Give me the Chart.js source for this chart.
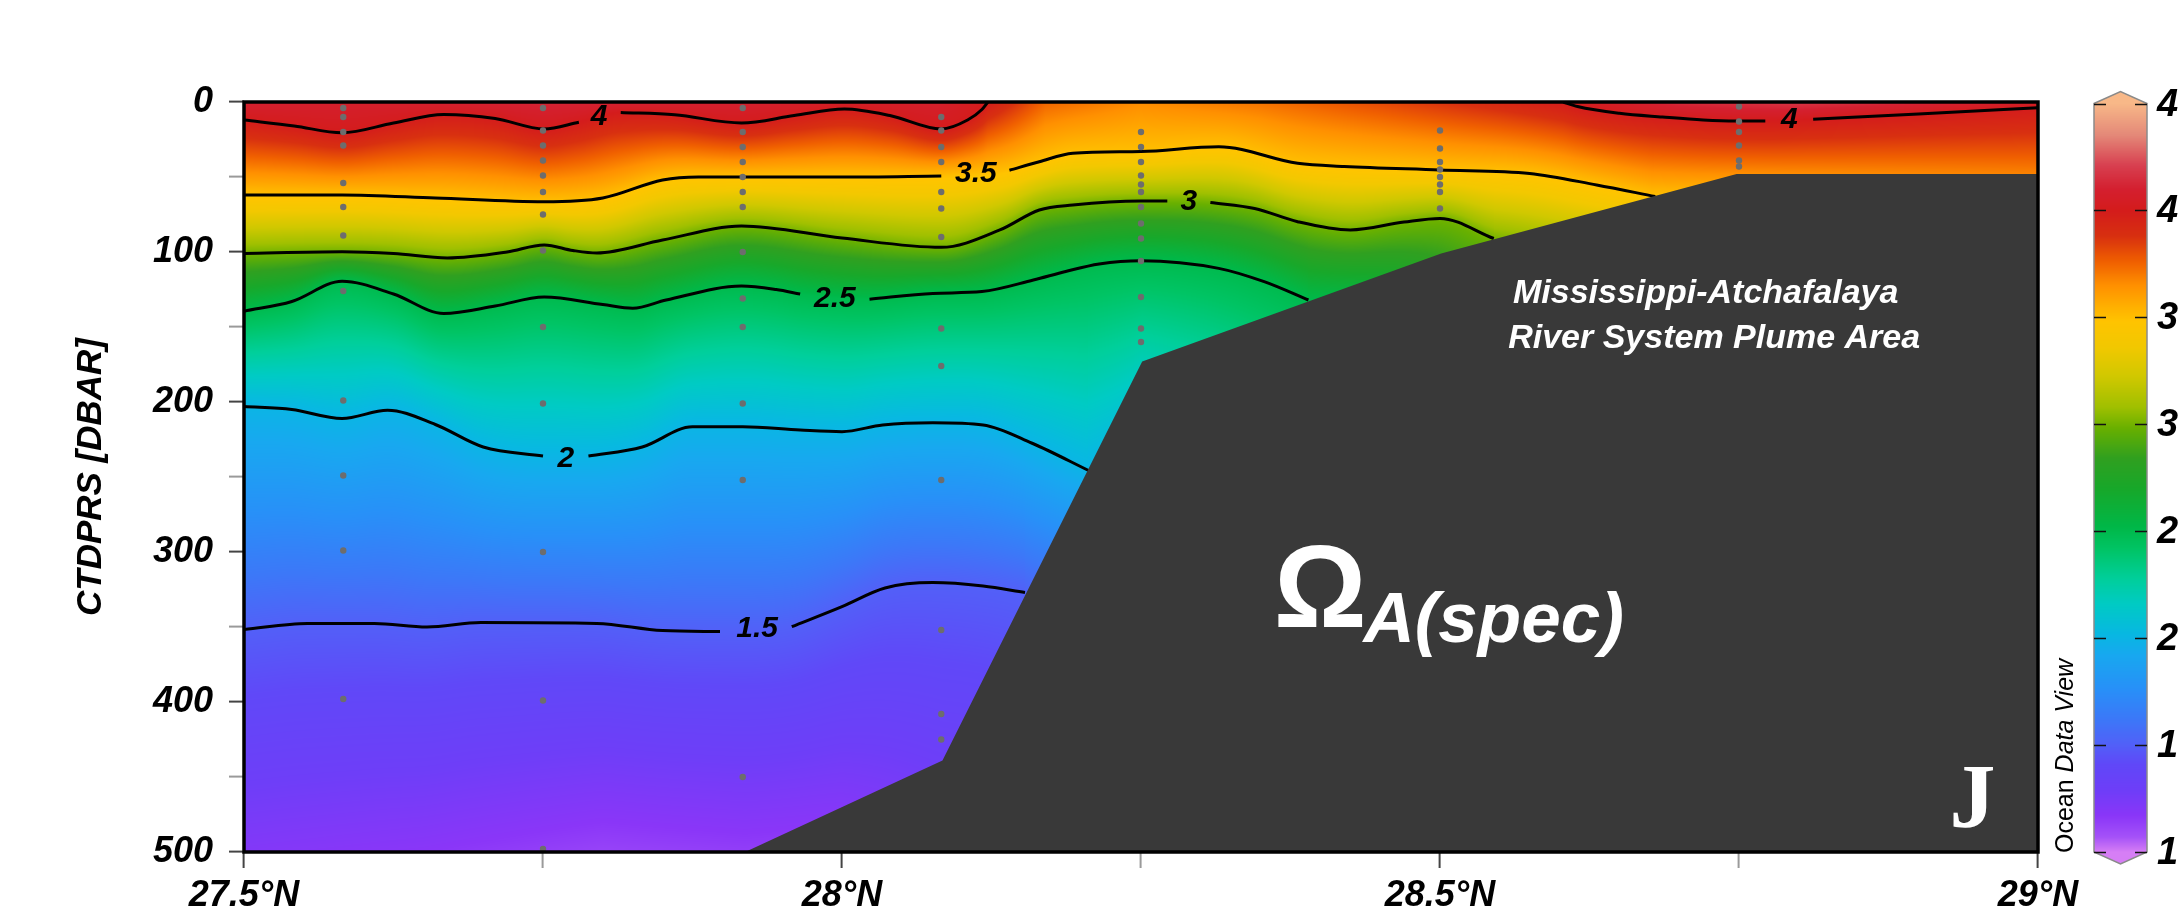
<!DOCTYPE html>
<html>
<head>
<meta charset="utf-8">
<script src="https://cdn.jsdelivr.net/npm/chart.js@4.4.1/dist/chart.umd.min.js"></script>
<style>
  html, body { margin: 0; padding: 0; background: #fff; }
  canvas { display: block; }
</style>
</head>
<body>
<canvas id="section" width="2178" height="922"></canvas>
<script>
// ---- Section data: latitude (°N) along the transect vs. pressure (dbar) ----
const latTicks = [27.5, 28, 28.5, 29];
const depthTicks = [0, 100, 200, 300, 400, 500];
const colorbarTicks = [4.5, 4, 3.5, 3, 2.5, 2, 1.5, 1];

// Isolines of Omega_A as [lat, dbar]; a [lat, null] entry is the break left for the inline label
const iso4West = [[27.5,12],[27.542,16],[27.582,20.5],[27.625,14],[27.667,8.3],[27.71,11],[27.751,18],[27.78,13.5],[27.797,null],[27.815,7],[27.86,8.5],[27.916,14],[27.96,9],[28.002,4.7],[28.04,9],[28.083,18],[28.105,12],[28.117,5],[28.122,0]];
const iso4East = [[28.603,0],[28.615,3],[28.65,7.5],[28.686,10],[28.72,12],[28.747,12.7],[28.772,12.7],[28.792,null],[28.812,11.5],[28.9,8],[29.0,3.8]];
const iso35 = [[27.5,62],[27.582,62],[27.66,64],[27.751,66.5],[27.8,64],[27.85,52],[27.88,50],[27.916,50],[28.0,50],[28.083,49.3],[28.112,null],[28.14,45.5],[28.165,39.8],[28.193,34.2],[28.25,33],[28.315,29.8],[28.381,40.9],[28.42,43],[28.5,45.3],[28.575,47.6],[28.631,55.3],[28.68,63]];
const iso3 = [[27.5,101],[27.582,99.8],[27.625,101],[27.67,104],[27.72,100],[27.751,95.3],[27.775,99],[27.795,100.7],[27.85,92],[27.916,82.7],[28.0,90.7],[28.083,96.9],[28.132,85.3],[28.165,72],[28.193,68.7],[28.25,66],[28.272,66],[28.29,null],[28.308,67],[28.345,71],[28.381,79.8],[28.425,85.3],[28.47,80],[28.5,77.6],[28.545,91]];
const iso25 = [[27.5,139.5],[27.54,133],[27.582,119.5],[27.625,128],[27.667,141],[27.71,136],[27.751,130],[27.8,135],[27.825,137.5],[27.853,132],[27.916,122.7],[27.945,125],[27.965,128],[27.994,null],[28.023,131.5],[28.076,127.6],[28.117,126.4],[28.16,118.7],[28.187,113],[28.215,108],[28.25,105.8],[28.315,110.9],[28.353,119.8],[28.39,132]];
const iso2 = [[27.5,203],[27.54,205],[27.582,211],[27.62,205.5],[27.66,215],[27.7,230],[27.75,236],[27.769,null],[27.788,236],[27.833,230],[27.875,216.5],[27.917,216.5],[27.965,218.7],[28.0,219.8],[28.034,215.3],[28.076,213.8],[28.118,215.3],[28.159,227.5],[28.207,246]];
const iso15 = [[27.5,351.6],[27.553,347.6],[27.609,347.6],[27.653,350],[27.698,347],[27.795,347.6],[27.85,352.4],[27.898,353],[27.929,null],[27.958,349.8],[28.0,336.4],[28.036,324],[28.076,320.4],[28.118,322.7],[28.153,327]];

const isoLevels = [4, 4, 3.5, 3, 2.5, 2, 1.5];
const isoLines = [iso4West, iso4East, iso35, iso3, iso25, iso2, iso15];
const isoLabelText = ['4', '4', '3.5', '3', '2.5', '2', '1.5'];
const isoLabelDbar = [10, 12, 48, 66.5, 131, 238, 351];

// Omega_A along the sea surface and along the bottom of the section
const surfaceLat = [27.5, 27.6, 27.75, 27.9, 28.0, 28.08, 28.122, 28.17, 28.25, 28.35, 28.45, 28.55, 28.603, 28.7, 28.8, 28.9, 29.0];
const surfaceVal = [4.1, 4.08, 4.12, 4.1, 4.06, 4.08, 4.0, 3.75, 3.66, 3.72, 3.82, 3.93, 4.0, 4.14, 4.18, 4.12, 4.06];
const bottomLat = [27.5, 27.65, 27.8, 27.919, 28.0, 28.084, 28.153, 28.207, 28.251, 28.39, 28.545, 28.68, 28.748, 29.0];
const bottomVal = [1.2, 1.17, 1.12, 1.14, 1.2, 1.3, 1.5, 2.0, 2.2, 2.5, 3.0, 3.5, 3.65, 3.68];

// Shelf / slope bathymetry
const seafloorLat = [27.919, 28.084, 28.251, 28.501, 28.748, 29.0];
const seafloorDbar = [500, 439, 173, 101, 48, 48];

// CTD stations and their bottle pressures
const stationLat = [27.583, 27.75, 27.917, 28.083, 28.25, 28.5, 28.75];
const stationDbar = [
  [4, 10, 20, 29, 54, 70, 89, 126, 199, 249, 299, 398],
  [4, 19, 29, 39, 49, 60, 75, 99, 150, 201, 300, 399, 498],
  [4, 20, 30, 40, 50, 60, 70, 100, 131, 150, 201, 252, 450],
  [10, 19, 30, 40, 60, 71, 90, 151, 176, 252, 352, 408, 425],
  [20, 30, 40, 49, 55, 60, 70, 81, 91, 106, 130, 151, 160],
  [19, 31, 40, 45, 50, 55, 60, 71],
  [3, 13, 20, 29, 39, 43]
];

// Colour scale (value -> colour)
const paletteVal = [1.00, 1.07, 1.17, 1.29, 1.41, 1.50, 1.62, 1.76, 1.92, 2.02, 2.16, 2.28, 2.42, 2.52, 2.70, 2.84, 2.98, 3.08, 3.22, 3.36, 3.48, 3.55, 3.65, 3.76, 3.88, 4.00, 4.10, 4.21, 4.35, 4.50];
const paletteHex = ['#d67ef5','#a552f8','#8a36f8','#6e3ef8','#6048f8','#5260f8','#3c78f8','#2890f8','#18a8f0','#08b8e2','#00cbc4','#00cf9a','#00c464','#00b848','#18a82a','#30a020','#68b000','#a0c000','#d0c800','#f2c800','#ffc400','#ffb000','#ff9000','#f06000','#d83010','#d41c1c','#d42030','#d84050','#e48878','#f8b888'];

// ---- helpers ----
const FONT = '"Liberation Sans", Arial, Helvetica, sans-serif';
const paletteRGB = paletteHex.map(h => [parseInt(h.slice(1,3),16), parseInt(h.slice(3,5),16), parseInt(h.slice(5,7),16)]);

function colourOf(v) {
  if (v <= paletteVal[0]) return paletteRGB[0];
  const n = paletteVal.length;
  if (v >= paletteVal[n-1]) return paletteRGB[n-1];
  let i = 1;
  while (paletteVal[i] < v) i++;
  const t = (v - paletteVal[i-1]) / (paletteVal[i] - paletteVal[i-1]);
  const a = paletteRGB[i-1], b = paletteRGB[i];
  return [a[0] + (b[0]-a[0])*t, a[1] + (b[1]-a[1])*t, a[2] + (b[2]-a[2])*t];
}

function linear(xs, ys, x) {
  if (x <= xs[0]) return ys[0];
  if (x >= xs[xs.length-1]) return ys[ys.length-1];
  let i = 1;
  while (xs[i] < x) i++;
  const t = (x - xs[i-1]) / (xs[i] - xs[i-1]);
  return ys[i-1] + (ys[i]-ys[i-1]) * t;
}

// Monotone cubic (Fritsch-Carlson), the same scheme Chart.js uses for cubicInterpolationMode 'monotone'
function monotoneCurve(pts) {
  const xs = pts.map(p => p[0]), ys = pts.map(p => p[1]);
  const n = xs.length, d = [], m = [];
  for (let i = 0; i < n-1; i++) d[i] = (ys[i+1]-ys[i]) / (xs[i+1]-xs[i]);
  for (let i = 0; i < n; i++) {
    if (i === 0) m[i] = d[0];
    else if (i === n-1) m[i] = d[n-2];
    else if (Math.sign(d[i-1]) !== Math.sign(d[i])) m[i] = 0;
    else m[i] = (d[i-1] + d[i]) / 2;
  }
  for (let i = 0; i < n-1; i++) {
    if (Math.abs(d[i]) < 1e-9) { m[i] = m[i+1] = 0; continue; }
    const a = m[i]/d[i], b = m[i+1]/d[i];
    if (Math.abs(a) < 1e-9 || Math.abs(b) < 1e-9) continue;
    const s = a*a + b*b;
    if (s <= 9) continue;
    const tau = 3 / Math.sqrt(s);
    m[i] = a*tau*d[i]; m[i+1] = b*tau*d[i];
  }
  return {
    x0: xs[0], x1: xs[n-1],
    at(x) {
      let i = 0;
      while (i < n-2 && xs[i+1] < x) i++;
      const h = xs[i+1]-xs[i], t = (x - xs[i]) / h, t2 = t*t, t3 = t2*t;
      return (2*t3-3*t2+1)*ys[i] + (t3-2*t2+t)*h*m[i] + (-2*t3+3*t2)*ys[i+1] + (t3-t2)*h*m[i+1];
    }
  };
}

const isoCurves = isoLines.map(pts => monotoneCurve(pts.filter(p => p[1] !== null)));

function seafloorAt(lat) {
  if (lat <= seafloorLat[0]) return 500;
  return linear(seafloorLat, seafloorDbar, lat);
}

// ---- plugins ----
// Interpolated colour field behind the isolines
const fieldPlugin = {
  id: 'field',
  beforeDatasetsDraw(chart) {
    const {ctx, chartArea: a, scales: {x, y}} = chart;
    const left = Math.round(a.left), top = Math.round(a.top);
    const w = Math.round(a.right) - left, h = Math.round(a.bottom) - top;
    const img = ctx.createImageData(w, h);
    const px = img.data;
    for (let i = 0; i < w; i++) {
      const lat = x.getValueForPixel(left + i + 0.5);
      const anchors = [[0, linear(surfaceLat, surfaceVal, lat)]];
      isoCurves.forEach((c, k) => {
        if (lat >= c.x0 && lat <= c.x1) anchors.push([c.at(lat), isoLevels[k]]);
      });
      anchors.push([seafloorAt(lat), linear(bottomLat, bottomVal, lat)]);
      anchors.sort((p, q) => p[0] - q[0]);
      let k = 0;
      for (let j = 0; j < h; j++) {
        const dbar = y.getValueForPixel(top + j + 0.5);
        while (k < anchors.length - 2 && anchors[k+1][0] < dbar) k++;
        let v;
        const p = anchors[k], q = anchors[k+1];
        if (dbar <= p[0]) v = p[1];
        else if (dbar >= q[0]) v = q[1];
        else v = p[1] + (q[1]-p[1]) * (dbar - p[0]) / (q[0] - p[0]);
        const c = colourOf(v);
        const o = (j*w + i) * 4;
        px[o] = c[0]; px[o+1] = c[1]; px[o+2] = c[2]; px[o+3] = 255;
      }
    }
    ctx.putImageData(img, left, top);
  }
};

// Isoline labels
const isoLabelPlugin = {
  id: 'isoLabels',
  afterDatasetsDraw(chart) {
    const {ctx, scales: {x, y}} = chart;
    ctx.save();
    ctx.font = 'italic bold 30px ' + FONT;
    ctx.fillStyle = '#000';
    ctx.textAlign = 'center';
    ctx.textBaseline = 'middle';
    isoLines.forEach((pts, k) => {
      const gap = pts.find(p => p[1] === null);
      ctx.fillText(isoLabelText[k], x.getPixelForValue(gap[0]), y.getPixelForValue(isoLabelDbar[k]));
    });
    ctx.restore();
  }
};

// Frame, annotations and colour bar
const decorPlugin = {
  id: 'decor',
  afterDraw(chart) {
    const {ctx, chartArea: a, scales: {x, y}} = chart;
    ctx.save();
    ctx.strokeStyle = '#000';
    ctx.lineWidth = 3.5;
    ctx.strokeRect(a.left, a.top, a.right - a.left, a.bottom - a.top);

    // annotations on the shelf
    ctx.fillStyle = '#fff';
    ctx.textAlign = 'left';
    ctx.textBaseline = 'alphabetic';
    ctx.font = 'italic bold 34px ' + FONT;
    ctx.fillText('Mississippi-Atchafalaya', x.getPixelForValue(28.561), y.getPixelForValue(134));
    ctx.fillText('River System Plume Area', x.getPixelForValue(28.557), y.getPixelForValue(164));
    ctx.font = 'bold 116px ' + FONT;
    ctx.fillText('\u03A9', x.getPixelForValue(28.361), y.getPixelForValue(350));
    ctx.font = 'italic bold 71px ' + FONT;
    ctx.fillText('A(spec)', x.getPixelForValue(28.436), y.getPixelForValue(360));
    ctx.font = 'bold 92px "Liberation Serif", "Times New Roman", serif';
    ctx.fillText('J', x.getPixelForValue(28.926), y.getPixelForValue(483));

    // vertical credit
    ctx.save();
    ctx.translate(2066, 853);
    ctx.rotate(-Math.PI / 2);
    ctx.fillStyle = '#000';
    ctx.textBaseline = 'middle';
    ctx.font = '25px ' + FONT;
    ctx.fillText('Ocean ', 0, 0);
    const w0 = ctx.measureText('Ocean ').width;
    ctx.font = 'italic 25px ' + FONT;
    ctx.fillText('Data View', w0, 0);
    ctx.restore();

    // colour bar
    const bx0 = 2094, bx1 = 2147;
    const vmax = colorbarTicks[0], vmin = colorbarTicks[colorbarTicks.length-1];
    const by0 = a.top + 1.5, by1 = a.bottom;
    const vy = v => by0 + (vmax - v) / (vmax - vmin) * (by1 - by0);
    for (let yy = Math.floor(by0); yy < by1; yy++) {
      const v = vmax - (yy + 0.5 - by0) / (by1 - by0) * (vmax - vmin);
      const c = colourOf(v);
      ctx.fillStyle = `rgb(${c[0]|0},${c[1]|0},${c[2]|0})`;
      ctx.fillRect(bx0, yy, bx1 - bx0, 1);
    }
    const mid = (bx0 + bx1) / 2;
    let c = colourOf(vmax);
    ctx.fillStyle = `rgb(${c[0]|0},${c[1]|0},${c[2]|0})`;
    ctx.beginPath(); ctx.moveTo(bx0, by0); ctx.lineTo(mid, by0 - 12); ctx.lineTo(bx1, by0); ctx.closePath(); ctx.fill();
    c = colourOf(vmin);
    ctx.fillStyle = `rgb(${c[0]|0},${c[1]|0},${c[2]|0})`;
    ctx.beginPath(); ctx.moveTo(bx0, by1); ctx.lineTo(mid, by1 + 12); ctx.lineTo(bx1, by1); ctx.closePath(); ctx.fill();
    ctx.strokeStyle = '#8a8a8a';
    ctx.lineWidth = 1.5;
    ctx.beginPath();
    ctx.moveTo(bx0, by0); ctx.lineTo(mid, by0 - 12); ctx.lineTo(bx1, by0);
    ctx.lineTo(bx1, by1); ctx.lineTo(mid, by1 + 12); ctx.lineTo(bx0, by1); ctx.closePath();
    ctx.stroke();
    ctx.strokeStyle = '#111';
    ctx.lineWidth = 1.5;
    ctx.fillStyle = '#000';
    ctx.font = 'italic bold 38px ' + FONT;
    ctx.textBaseline = 'middle';
    colorbarTicks.forEach(v => {
      const ty = Math.round(vy(v)) + 0.5;
      ctx.beginPath();
      ctx.moveTo(bx0, ty); ctx.lineTo(bx0 + 12, ty);
      ctx.moveTo(bx1 - 12, ty); ctx.lineTo(bx1, ty);
      ctx.stroke();
      ctx.fillText(String(v), 2157, ty + 1);
    });
    ctx.restore();
  }
};

// ---- datasets ----
const isoDatasets = isoLines.map(pts => ({
  type: 'line',
  data: pts.map(p => ({x: p[0], y: p[1]})),
  borderColor: '#000',
  borderWidth: 3,
  pointRadius: 0,
  fill: false,
  spanGaps: false,
  cubicInterpolationMode: 'monotone',
  order: 3
}));

const stationPoints = [];
stationLat.forEach((lat, i) => stationDbar[i].forEach(d => stationPoints.push({x: lat, y: d})));

const isMajorLat = v => Math.abs(v * 2 - Math.round(v * 2)) < 1e-6;
const isMajorDbar = v => Math.abs(v % 100) < 1e-6;
const isEdge = (v, lo, hi) => Math.abs(v - lo) < 1e-6 || Math.abs(v - hi) < 1e-6;

new Chart(document.getElementById('section'), {
  type: 'line',
  data: {
    datasets: [
      ...isoDatasets,
      {
        type: 'scatter',
        data: stationPoints,
        pointRadius: 3.2,
        pointBackgroundColor: '#6d6d6d',
        pointBorderWidth: 0,
        showLine: false,
        order: 2
      },
      {
        type: 'line',
        data: seafloorLat.map((lat, i) => ({x: lat, y: seafloorDbar[i]})),
        borderWidth: 0,
        borderColor: 'rgba(0,0,0,0)',
        backgroundColor: '#393939',
        pointRadius: 0,
        tension: 0,
        fill: {value: 500},
        order: 1
      }
    ]
  },
  options: {
    responsive: false,
    animation: false,
    devicePixelRatio: 1,
    events: [],
    layout: {padding: {top: 102, right: 140, left: 0, bottom: 0}},
    plugins: {legend: {display: false}, tooltip: {enabled: false}},
    scales: {
      x: {
        type: 'linear',
        min: latTicks[0],
        max: latTicks[latTicks.length - 1],
        z: 1,
        border: {display: false},
        grid: {
          color: c => (isMajorLat(c.tick.value) && !isEdge(c.tick.value, 27.5, 29)) ? 'rgba(0,0,0,0.8)' : 'rgba(0,0,0,0)',
          lineWidth: 1.2,
          drawTicks: true,
          tickLength: 16,
          tickWidth: 2,
          tickColor: c => isMajorLat(c.tick.value) ? '#444' : '#9a9a9a'
        },
        ticks: {
          stepSize: 0.25,
          autoSkip: false,
          maxRotation: 0,
          minRotation: 0,
          padding: 6,
          color: '#000',
          font: {family: FONT, size: 36, weight: 'bold', style: 'italic'},
          callback: v => latTicks.some(t => Math.abs(t - v) < 1e-6) ? v + '\u00B0N' : ''
        },
        afterFit: s => { s.height = 70; }
      },
      y: {
        type: 'linear',
        reverse: true,
        min: depthTicks[0],
        max: depthTicks[depthTicks.length - 1],
        z: 1,
        border: {display: false},
        grid: {
          color: c => (isMajorDbar(c.tick.value) && !isEdge(c.tick.value, 0, 500)) ? 'rgba(0,0,0,0.8)' : 'rgba(0,0,0,0)',
          lineWidth: 1.2,
          drawTicks: true,
          tickLength: 15,
          tickWidth: 2,
          tickColor: c => isMajorDbar(c.tick.value) ? '#444' : '#9a9a9a'
        },
        ticks: {
          stepSize: 50,
          autoSkip: false,
          padding: 16,
          color: '#000',
          font: {family: FONT, size: 36, weight: 'bold', style: 'italic'},
          callback: v => depthTicks.includes(v) ? String(v) : ''
        },
        title: {
          display: true,
          text: 'CTDPRS [DBAR]',
          color: '#000',
          font: {family: FONT, size: 35, weight: 'bold', style: 'italic'},
          padding: {top: 70, bottom: 0}
        },
        afterFit: s => { s.width = 244; }
      }
    }
  },
  plugins: [fieldPlugin, isoLabelPlugin, decorPlugin]
});
</script>
</body>
</html>
